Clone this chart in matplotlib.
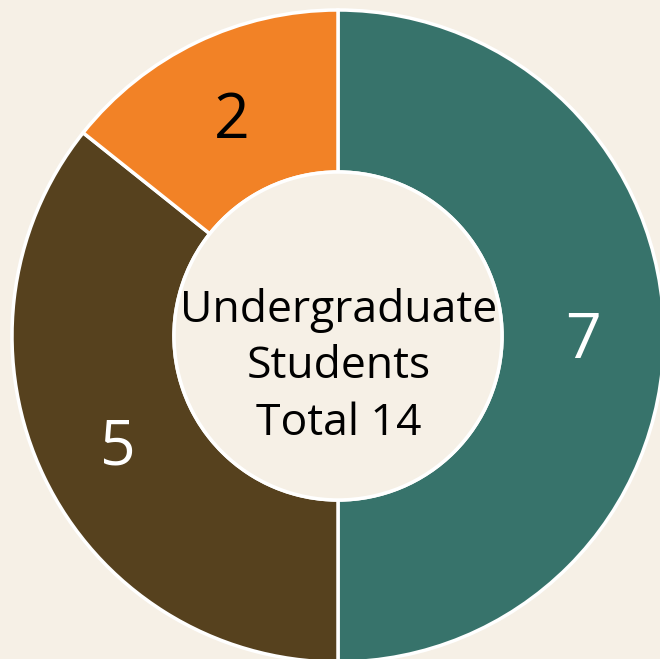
import matplotlib.pyplot as plt

# datos del gráfico
valores = [7, 5, 2]
colores = ['#37736b', '#56411e', '#f28226']
colores_texto = ['white', 'white', 'black']
texto_centro = "Undergraduate\nStudents\nTotal 14"

fondo = '#f6f0e6'

fig = plt.figure(figsize=(6.6, 6.59), dpi=100, facecolor=fondo)
ax = fig.add_axes([0, 0, 1, 1])
ax.set_facecolor(fondo)

# coordenadas en píxeles
cx, cy = 338, 659 - 336
r_ext = 326
r_int = 164

wedges, textos = ax.pie(
    valores, colors=colores, startangle=90, counterclock=False,
    center=(cx, cy), radius=r_ext,
    labels=[str(v) for v in valores], labeldistance=0.75,
    wedgeprops=dict(width=r_ext - r_int, edgecolor='white', linewidth=2.5),
    textprops=dict(fontsize=45, family='Open Sans'),
)
for t, c in zip(textos, colores_texto):
    t.set_color(c)
    t.set_ha('center')
    t.set_va('center')
    x, y = t.get_position()
    t.set_position((x, y - 6))

# círculo central
ax.add_patch(plt.Circle((cx, cy), r_int, facecolor=fondo, edgecolor='white', lw=2.5))
ax.text(cx + 1, cy - 31, texto_centro, ha='center', va='center', fontsize=32,
        family='Open Sans', linespacing=1.37)

ax.set_xlim(0, 660)
ax.set_ylim(0, 659)
ax.set_aspect('auto')
ax.axis('off')

fig.savefig('out.png', dpi=100, facecolor=fondo)
